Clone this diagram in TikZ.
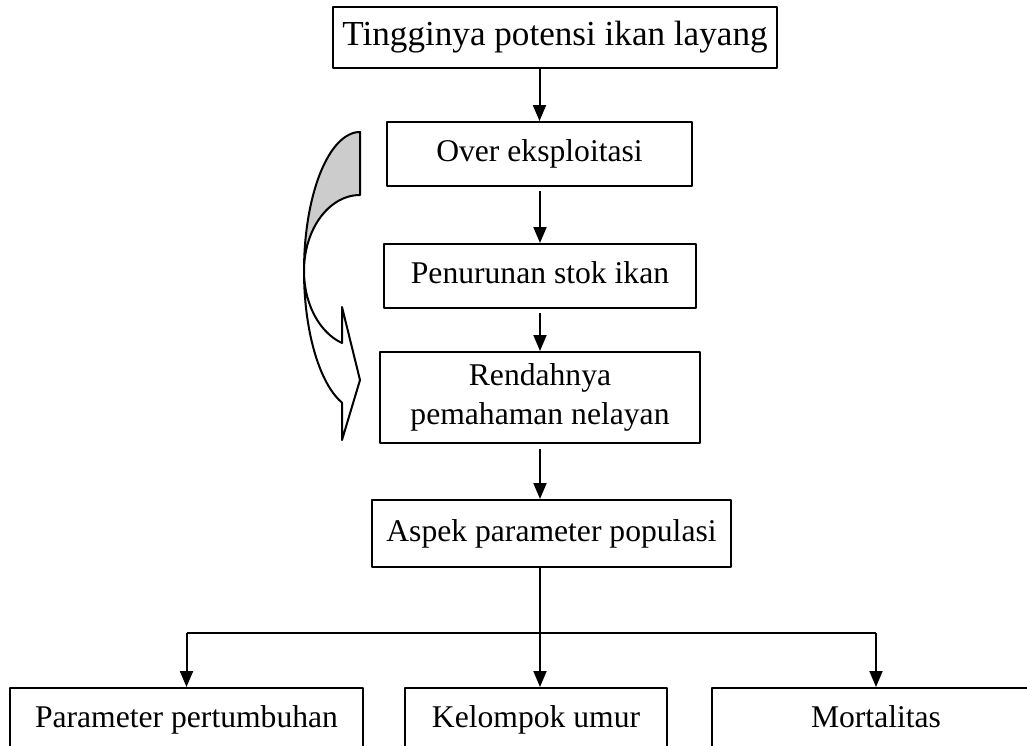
\documentclass[tikz,border=0pt]{standalone}
\usepackage{fontspec}
\setmainfont{Liberation Serif}
\usetikzlibrary{calc}
\usetikzlibrary{arrows.meta}

\tikzset{
    box/.style={draw, inner sep=0, align=center,
        font=\fontsize{18}{22}\selectfont},
    oneline/.style={box, text height=12.6pt, text depth=4pt},
    flow/.style={-{Triangle[length=0.32cm, width=0.26cm]}},
}

\begin{document}
\begin{tikzpicture}[x=0.02cm, y=-0.02cm, line width=0.04cm, line join=round]
    \useasboundingbox (0, 0) rectangle (1027, 745);

\node[oneline, minimum width=8.9cm, minimum height=1.22cm,
    font=\fontsize{20}{24}\selectfont, text height=14pt, text depth=4.4pt]
    (potensi) at (555, 37.5) {Tingginya potensi ikan layang};
\node[oneline, minimum width=6.1cm, minimum height=1.28cm] (over) at (539.5, 154)
    {Over eksploitasi};
\node[oneline, minimum width=6.24cm, minimum height=1.28cm] (penurunan) at (540, 276)
    {Penurunan stok ikan};
\node[box, minimum width=6.4cm, minimum height=1.82cm] (rendahnya) at (540, 397.5)
    {Rendahnya\\pemahaman nelayan};
\node[oneline, minimum width=7.18cm, minimum height=1.34cm] (aspek) at (551.5, 533.5)
    {Aspek parameter populasi};

\node[oneline, minimum width=7.06cm, minimum height=1.28cm] (pertumbuhan) at (186.5, 720)
    {Parameter pertumbuhan};
\node[oneline, minimum width=5.24cm, minimum height=1.28cm] (umur) at (536, 720)
    {Kelompok umur};
\node[oneline, minimum width=6.56cm, minimum height=1.28cm] (mortalitas) at (876, 720)
    {Mortalitas};

\draw[flow] (potensi.south -| over.north) -- (over.north);
\draw[flow, shorten <=0.08cm] (over.south -| penurunan.north) -- (penurunan.north);
\draw[flow, shorten <=0.08cm] (penurunan.south) -- (rendahnya.north);
\draw[flow, shorten <=0.1cm] (rendahnya.south) -- (rendahnya.south |- aspek.north);

\coordinate (split) at (540, 633);
\draw[flow] (rendahnya.south |- aspek.south) -- (rendahnya.south |- umur.north);
\draw (pertumbuhan.north |- split) -- (mortalitas.north |- split);
\draw[flow] (pertumbuhan.north |- split) -- (pertumbuhan.north);
\draw[flow] (mortalitas.north |- split) -- (mortalitas.north);

    \newcommand\cx{360}
\newcommand\cy{271}
\newcommand\rx{56}

    \filldraw[fill=black!20]
        plot[domain=0:90, samples=40] ({\cx-\rx*cos(\x)}, {\cy-139*sin(\x)})
        -- (\cx, 195)
        -- plot[domain=0:90, samples=40] ({\cx-\rx*sin(\x)}, {\cy-76*cos(\x)})
        -- cycle;

    \filldraw[fill=white]
        plot[domain=0:71.3, samples=40] ({\cx-\rx*cos(\x)}, {\cy+139*sin(\x)})
        -- (342, 440) -- (\cx, 380) -- (342, 307) -- (342, 343)
        -- plot[domain=18.7:90, samples=40] ({\cx-\rx*sin(\x)}, {\cy+76*cos(\x)})
        -- cycle;
\end{tikzpicture}
\end{document}
